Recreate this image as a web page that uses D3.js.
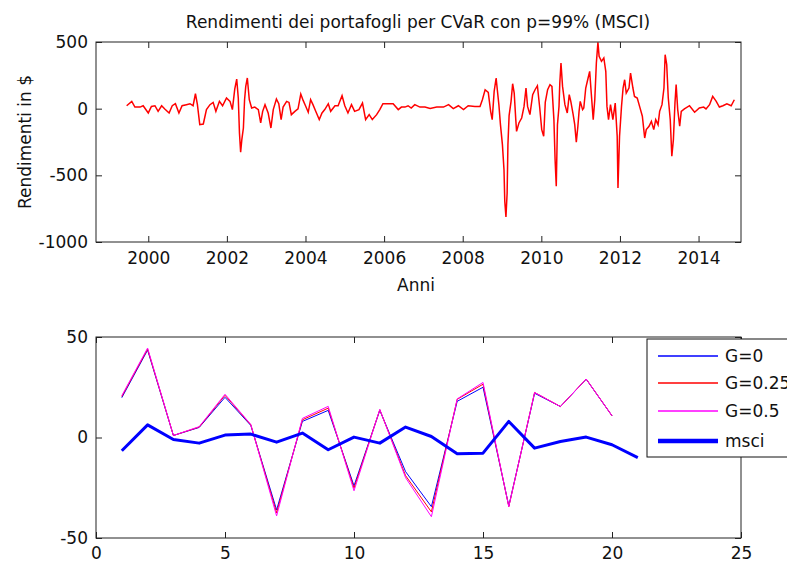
<!DOCTYPE html>
<html>
<head>
<meta charset="utf-8">
<script src="https://cdn.jsdelivr.net/npm/d3@7"></script>
<style>
  body { margin: 0; background: #fff; }
  svg text { font-family: "DejaVu Sans", sans-serif; fill: #111; }
</style>
</head>
<body>
<svg id="chart" width="787" height="568"></svg>
<script>
// Top panel: portfolio returns over time (decimal years)
var anni = [1999.45, 1999.58, 1999.66, 1999.79, 1999.87, 2000.00, 2000.08, 2000.17, 2000.25, 2000.34,
  2000.42, 2000.53, 2000.61, 2000.69, 2000.78, 2000.86, 2000.97, 2001.06, 2001.14, 2001.20,
  2001.25, 2001.31, 2001.40, 2001.48, 2001.57, 2001.65, 2001.72, 2001.81, 2001.89, 2001.99,
  2002.08, 2002.14, 2002.20, 2002.25, 2002.29, 2002.32, 2002.35, 2002.38, 2002.42, 2002.45,
  2002.48, 2002.52, 2002.57, 2002.63, 2002.71, 2002.80, 2002.86, 2002.91, 2002.97, 2003.05,
  2003.12, 2003.18, 2003.26, 2003.32, 2003.38, 2003.43, 2003.52, 2003.58, 2003.64, 2003.73,
  2003.81, 2003.88, 2003.94, 2004.00, 2004.07, 2004.13, 2004.19, 2004.26, 2004.35, 2004.42,
  2004.49, 2004.58, 2004.64, 2004.75, 2004.83, 2004.93, 2005.00, 2005.08, 2005.17, 2005.25,
  2005.36, 2005.45, 2005.53, 2005.62, 2005.70, 2005.81, 2005.89, 2005.97, 2006.06, 2006.23,
  2006.36, 2006.44, 2006.53, 2006.61, 2006.69, 2006.78, 2006.91, 2007.04, 2007.17, 2007.34,
  2007.51, 2007.64, 2007.76, 2007.89, 2008.02, 2008.14, 2008.31, 2008.44, 2008.50, 2008.57,
  2008.65, 2008.71, 2008.75, 2008.80, 2008.85, 2008.88, 2008.92, 2008.96, 2009.01, 2009.05,
  2009.07, 2009.10, 2009.13, 2009.15, 2009.18, 2009.23, 2009.27, 2009.31, 2009.35, 2009.37,
  2009.43, 2009.50, 2009.56, 2009.61, 2009.65, 2009.71, 2009.78, 2009.84, 2009.90, 2009.96,
  2010.01, 2010.06, 2010.10, 2010.16, 2010.22, 2010.27, 2010.32, 2010.35, 2010.38, 2010.41,
  2010.45, 2010.47, 2010.50, 2010.54, 2010.60, 2010.66, 2010.71, 2010.75, 2010.81, 2010.85,
  2010.89, 2010.93, 2010.96, 2010.99, 2011.05, 2011.08, 2011.13, 2011.19, 2011.23, 2011.27,
  2011.32, 2011.36, 2011.40, 2011.44, 2011.47, 2011.53, 2011.59, 2011.64, 2011.67, 2011.71,
  2011.76, 2011.82, 2011.88, 2011.93, 2011.95, 2011.99, 2012.04, 2012.08, 2012.12, 2012.16,
  2012.23, 2012.27, 2012.33, 2012.37, 2012.44, 2012.50, 2012.57, 2012.63, 2012.67, 2012.74,
  2012.80, 2012.86, 2012.91, 2012.97, 2013.01, 2013.07, 2013.12, 2013.15, 2013.19, 2013.23,
  2013.28, 2013.32, 2013.36, 2013.40, 2013.43, 2013.47, 2013.52, 2013.56, 2013.64, 2013.77,
  2013.90, 2014.02, 2014.13, 2014.19, 2014.28, 2014.36, 2014.45, 2014.53, 2014.62, 2014.72,
  2014.83, 2014.91];
var rendCVaR = [22, 55, 12, 12, 22, -32, 17, 22, -20, 22,
  -2, -32, 22, 37, -32, 22, 30, 37, 22, 112,
  30, -120, -115, -7, 30, 47, -20, 55, 22, 80,
  55, -7, 147, 222, 80, -182, -327, -232, -145, 67,
  167, 230, 67, 5, 12, -7, -107, -20, 30, -32,
  -145, -7, 72, 37, -82, 12, 55, 47, -45, -20,
  -2, 110, 62, 22, -27, 67, 30, -20, -82, -32,
  -7, 37, -20, 22, 22, 97, 22, -32, 30, -20,
  -7, 42, -82, -45, -82, -45, -7, 37, 37, 37,
  -7, 12, 12, 22, 5, 30, 12, 12, 2, 12,
  12, 30, 0, 22, -7, 22, 17, 17, 67, 142,
  122, -20, -82, 130, 230, 142, 30, -120, -270, -457,
  -695, -812, -632, -270, -52, 55, 187, 117, -82, -170,
  -107, -70, 17, 155, 17, -45, 105, 142, 172, 5,
  -157, -207, 47, 142, 180, 167, -82, -382, -582, -120,
  17, 192, 342, 167, 30, -32, 105, 55, -45, -120,
  -252, -132, -20, 55, -7, 5, 155, 230, 280, 117,
  -82, 67, 342, 497, 392, 355, 380, 280, 17, -82,
  30, -82, 42, -207, -595, -207, 17, 155, 217, 117,
  155, 267, 155, 92, 80, 17, -57, -220, -157, -132,
  -95, -157, -82, -120, -20, 30, 155, 405, 330, 80,
  -82, -357, -232, 42, 180, -7, -132, -20, -2, 22,
  -27, 5, 12, -2, 30, 92, 55, 12, 22, 37,
  22, 67];
var anniTicks = [2000, 2002, 2004, 2006, 2008, 2010, 2012, 2014];
var rendTicks = [500, 0, -500, -1000];

// Bottom panel: yearly returns
var periodi = [1, 2, 3, 4, 5, 6, 7, 8, 9, 10, 11, 12, 13, 14, 15, 16, 17, 18, 19, 20, 21];
var g0   = [19.8, 43.5, 1, 5, 20, 6, -36, 8, 13.5, -24, 13.5, -17, -34.4, 18, 25, -34, 22, 15.4, 29, 10.8];
var g025 = [20.4, 44, 1, 5.2, 21, 6.3, -37.5, 8.8, 14.6, -25.2, 13.8, -19, -37, 19, 26.5, -34.4, 22.4, 15.4, 29.1, 10.8];
var g05  = [20.8, 44.5, 1, 5.4, 21.5, 6.5, -39, 9.5, 15.5, -26.5, 14, -20, -39.4, 19.2, 27.4, -34.4, 22.4, 15.4, 29.1, 10.8];
var msci = [-6.6, 6.3, -1, -2.8, 1.2, 1.7, -2.3, 2.2, -6.1, 0.2, -2.8, 5.2, 0.5, -8.1, -7.8, 8, -5.3, -2, 0.2, -3.6, -10];
var periodiTicks = [0, 5, 10, 15, 20, 25];
var yTicksBasso = [50, 0, -50];
var legendLabels = ["G=0", "G=0.25", "G=0.5", "msci"];

var svg = d3.select("#chart");
var FS = 17, FONT = "DejaVu Sans, sans-serif", TICK = 6, AXC = "#222";
// plain hyphen for negatives, like the original
var fmt = function (d) { return String(d); };

function drawFrame(g, x, y, w, h, xt, yt, xPad) {
  // bottom / left with labels, top / right mirrored without
  g.append("g").attr("transform", "translate(0," + h + ")")
    .call(d3.axisBottom(x).tickValues(xt).tickSizeInner(-TICK).tickSizeOuter(0).tickPadding(xPad).tickFormat(fmt));
  g.append("g")
    .call(d3.axisTop(x).tickValues(xt).tickSizeInner(-TICK).tickSizeOuter(0).tickFormat(""));
  g.append("g")
    .call(d3.axisLeft(y).tickValues(yt).tickSizeInner(-TICK).tickSizeOuter(0).tickPadding(8).tickFormat(fmt));
  g.append("g").attr("transform", "translate(" + w + ",0)")
    .call(d3.axisRight(y).tickValues(yt).tickSizeInner(-TICK).tickSizeOuter(0).tickFormat(""));
  g.selectAll(".domain").remove();
  g.selectAll(".tick line").attr("stroke", AXC);
  g.selectAll(".tick text").attr("font-size", FS).attr("font-family", FONT).attr("fill", "#111");
  g.append("rect").attr("width", w).attr("height", h)
    .attr("fill", "none").attr("stroke", AXC).attr("stroke-width", 1);
}

// ---------- top panel ----------
var t = { left: 96, top: 42, w: 645, h: 200 };
var gt = svg.append("g").attr("transform", "translate(" + t.left + "," + t.top + ")");
var xT = d3.scaleLinear().domain([1998.67, 2015.08]).range([0, t.w]);
var yT = d3.scaleLinear().domain([-1000, 500]).range([t.h, 0]);

gt.append("clipPath").attr("id", "clipT").append("rect").attr("width", t.w).attr("height", t.h);
var lineT = d3.line().x(function (d, i) { return xT(anni[i]); }).y(function (d) { return yT(d); });
gt.append("path").datum(rendCVaR)
  .attr("clip-path", "url(#clipT)")
  .attr("d", lineT)
  .attr("fill", "none").attr("stroke", "#ff0000").attr("stroke-width", 1.5);

drawFrame(gt, xT, yT, t.w, t.h, anniTicks, rendTicks, 10);

svg.append("text").attr("x", 418).attr("y", 28).attr("text-anchor", "middle")
  .attr("font-size", FS).text("Rendimenti dei portafogli per CVaR con p=99% (MSCI)");
svg.append("text").attr("transform", "translate(31," + (t.top + t.h / 2) + ") rotate(-90)")
  .attr("text-anchor", "middle").attr("font-size", FS).text("Rendimenti in $");
svg.append("text").attr("x", 416).attr("y", 291).attr("text-anchor", "middle")
  .attr("font-size", FS).text("Anni");

// ---------- bottom panel ----------
var b = { left: 96, top: 337, w: 645, h: 201 };
var gb = svg.append("g").attr("transform", "translate(" + b.left + "," + b.top + ")");
var xB = d3.scaleLinear().domain([0, 25]).range([0, b.w]);
var yB = d3.scaleLinear().domain([-50, 50]).range([b.h, 0]);

var series = [
  { values: g0, color: "#0000ff", width: 1 },
  { values: g025, color: "#ff0000", width: 1 },
  { values: g05, color: "#ff00ff", width: 1 },
  { values: msci, color: "#0000ff", width: 3 }
];
var lineB = d3.line().x(function (d, i) { return xB(periodi[i]); }).y(function (d) { return yB(d); });
series.forEach(function (s) {
  gb.append("path").datum(s.values)
    .attr("d", lineB)
    .attr("fill", "none").attr("stroke", s.color).attr("stroke-width", s.width)
    .attr("stroke-linejoin", "round");
});

drawFrame(gb, xB, yB, b.w, b.h, periodiTicks, yTicksBasso, 9);

// legend (runs off the right edge, as in the original figure)
var leg = svg.append("g").attr("transform", "translate(647,339)");
leg.append("rect").attr("width", 170).attr("height", 118)
  .attr("fill", "#fff").attr("stroke", "#111").attr("stroke-width", 1);
var legY = [17, 44, 72, 102];
series.forEach(function (s, i) {
  leg.append("line").attr("x1", 11).attr("x2", 71).attr("y1", legY[i]).attr("y2", legY[i])
    .attr("stroke", s.color).attr("stroke-width", s.width * 1.5);
  leg.append("text").attr("x", 78).attr("y", legY[i]).attr("dy", "0.36em")
    .attr("font-size", FS).text(legendLabels[i]);
});
</script>
</body>
</html>
